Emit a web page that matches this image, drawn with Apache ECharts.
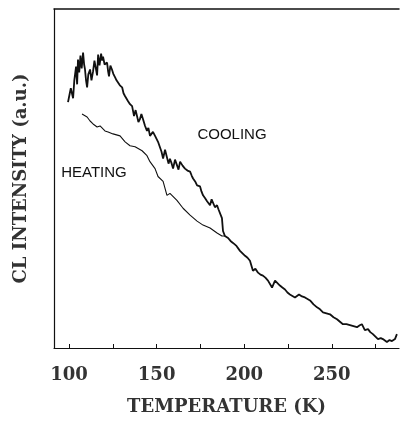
<!DOCTYPE html>
<html>
<head>
<meta charset="utf-8">
<script src="https://cdn.jsdelivr.net/npm/echarts@6/dist/echarts.min.js"></script>
<style>html,body{margin:0;padding:0;background:#fff;}#c{width:401px;height:421px;}</style>
</head>
<body>
<div id="c"></div>
<script>
// Temperature (K) and CL intensity (a.u.)
const coolingT = [99.4,100.3,101.0,101.7,102.3,103.0,103.4,104.0,104.6,105.1,105.8,106.5,107.2,108.0,108.6,109.1,109.7,110.3,111.0,112.0,112.8,113.7,114.5,115.4,116.0,116.6,117.4,118.3,118.9,119.4,120.3,121.7,122.3,122.8,123.6,124.5,125.4,126.3,127.1,128.0,129.0,130.3,131.1,132.0,132.8,133.7,134.8,136.0,137.1,138.0,138.8,139.6,140.5,141.3,142.2,143.4,144.5,145.3,146.2,147.9,149.1,150.0,150.8,151.9,152.8,153.7,154.8,155.9,156.8,157.6,158.6,159.4,160.5,161.6,162.5,163.4,164.8,166.2,167.6,169.1,170.0,170.8,172.0,173.1,174.8,175.6,176.5,177.7,178.8,179.6,180.5,181.4,182.2,183.3,184.5,185.3,186.2,187.3,187.9,189.0,190.8,192.2,193.6,195.6,197.6,200.5,201.9,203.3,205.0,206.4,207.9,209.3,210.7,212.1,213.6,215.9,217.6,218.7,220.4,221.8,223.3,224.7,226.1,229.0,231.3,233.0,234.7,237.6,239.6,241.6,243.3,245.0,247.0,249.0,251.0,253.0,256.4,258.4,260.4,262.4,264.4,266.0,267.2,268.9,270.7,272.0,273.5,276.4,278.0,279.2,281.5,283.0,284.4,286.1,287.2];
const coolingI = [248,256,262,264,252,270,271,284,266,291,278,295,282,298,286,281,270,263,276,281,270,279,290,288,275,296,285,297,290,294,286,288,279,274,285,281,276,273,270,268,265,263,257,254,252,249,246,244,234,240,239,228,231,236,231,224,219,222,214,218,214,212,208,209,198,191,200,198,186,191,186,181,190,188,180,188,184,181,179,178,174,171,168,164,163,158,154,151,148,146,144,150,148,142,144,140,138,131,118,113,111,108,106,103,98,93,91,88,78,80,76,74,73,71,68,61,68,69,63,61,59,56,54,51,54,52,51,48,44,41,39,36,35,34,31,29,24,24,23,22,21,23,24,18,19,16,14,9,10,9,6,8,7,9,14];
const heatingT = [107.4,110.3,112.0,113.7,116.0,117.7,120.5,122.3,125.1,129.1,132.0,134.8,137.7,141.7,144.5,146.2,149.1,150.8,153.7,155.9,157.6,161.6,165.1,169.1,173.1,176.5,180.5,184.5,187.3,189.0];
const heatingI = [236,233,229,226,223,224,219,218,216,214,208,204,203,199,194,188,181,173,168,154,156,149,141,134,128,124,121,116,113,113];
const xLabelValues = [100,150,200,250];
const xTickValues = [100,125,150,175,200,225,250,275];

const zip = (a,b) => a.map((v,i)=>[v,b[i]]);
const chart = echarts.init(document.getElementById('c'), null, {renderer:'canvas'});
const serif = '"DejaVu Serif", serif';
chart.setOption({
  animation:false,
  backgroundColor:'#fff',
  grid:{left:54,right:2,top:9,bottom:70},
  xAxis:[{
    type:'value', min:91.4, max:288.4,
    name:'TEMPERATURE (K)', nameLocation:'middle', nameGap:50,
    nameTextStyle:{fontFamily:serif,fontSize:18,fontWeight:'bold',color:'#333'},
    axisLine:{show:true,onZero:false,lineStyle:{color:'#111',width:1.2}},
    axisTick:{show:true,inside:true,length:4,customValues:xTickValues,lineStyle:{color:'#111'}},
    axisLabel:{customValues:xLabelValues,margin:18,fontFamily:serif,fontSize:18,fontWeight:'bold',color:'#333'},
    splitLine:{show:false}
  },{
    type:'value', min:91.4, max:288.4, position:'top',
    axisLine:{show:true,onZero:false,lineStyle:{color:'#111',width:1.5}},
    axisTick:{show:false}, axisLabel:{show:false}, splitLine:{show:false}
  }],
  yAxis:{
    type:'value', min:0, max:342,
    name:'CL INTENSITY (a.u.)', nameLocation:'middle', nameGap:24,
    nameTextStyle:{fontFamily:serif,fontSize:18,fontWeight:'bold',color:'#333'},
    axisLine:{show:true,onZero:false,lineStyle:{color:'#111',width:1.2}},
    axisTick:{show:false}, axisLabel:{show:false}, splitLine:{show:false}
  },
  series:[
    {name:'COOLING',type:'line',data:zip(coolingT,coolingI),showSymbol:false,
     lineStyle:{color:'#111',width:1.8},z:3},
    {name:'HEATING',type:'line',data:zip(heatingT,heatingI),showSymbol:false,
     lineStyle:{color:'#111',width:1.1},z:2}
  ],
  graphic:[
    {type:'text',x:232,y:135,style:{text:'COOLING',fontFamily:'"Liberation Sans", Arial, sans-serif',fontSize:15,fill:'#111',textAlign:'center',textVerticalAlign:'middle'}},
    {type:'text',x:94,y:173,style:{text:'HEATING',fontFamily:'"Liberation Sans", Arial, sans-serif',fontSize:15,fill:'#111',textAlign:'center',textVerticalAlign:'middle'}}
  ]
});
</script>
</body>
</html>
